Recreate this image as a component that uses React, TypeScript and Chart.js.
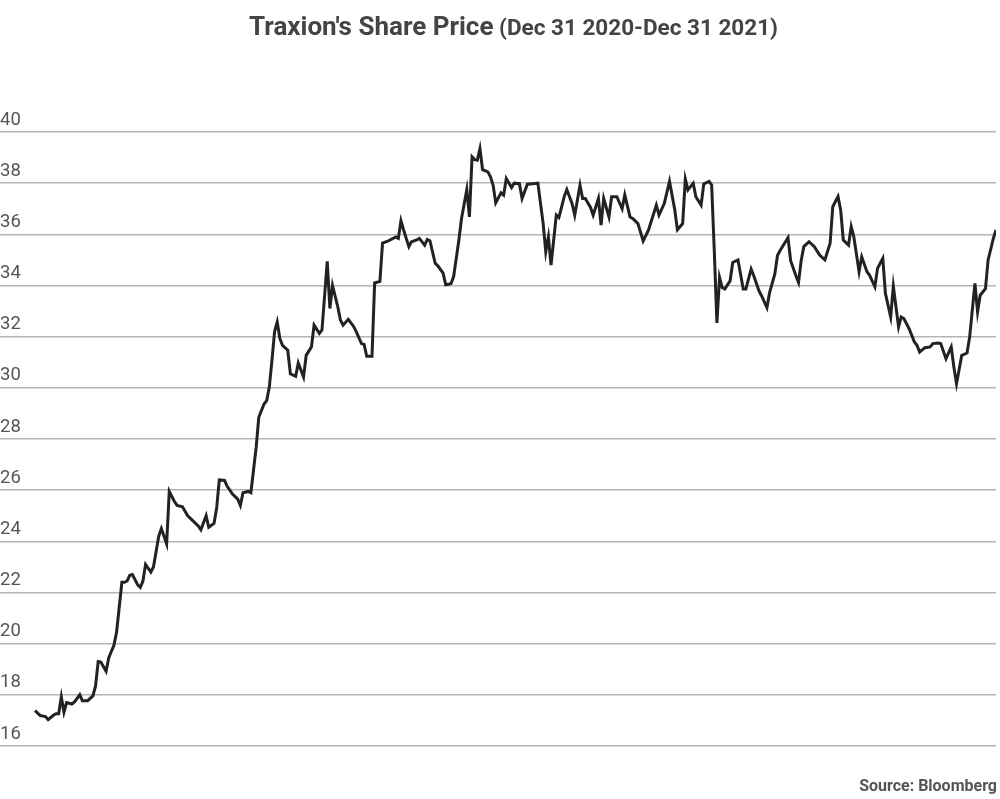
import React, { useEffect, useRef } from "react";
import { Chart, registerables } from "chart.js";

Chart.register(...registerables);

const titleMain = "Traxion's Share Price";
const titleSub = "(Dec 31 2020-Dec 31 2021)";
const sourceText = "Source: Bloomberg";

// days since Dec 31 2020
const days = [
  0, 2, 4, 5, 7, 8, 9, 10, 11, 12, 14, 15, 17, 18, 20, 22, 23, 24, 25, 27, 28, 30, 31, 33, 34, 35, 36, 37, 39, 40,
  41, 42, 44, 45, 47, 48, 50, 51, 53, 54, 56, 58, 60, 62, 63, 65, 66, 68, 69, 70, 72, 73, 75, 77, 78, 79, 81, 82,
  84, 85, 87, 88, 89, 90, 91, 92, 93, 94, 96, 97, 99, 100, 102, 103, 105, 106, 108, 109, 111, 112, 113, 115, 116,
  117, 119, 121, 122, 124, 125, 126, 128, 129, 131, 132, 134, 136, 137, 138, 139, 140, 142, 143, 145, 146, 148,
  149, 150, 152, 153, 155, 156, 158, 159, 161, 162, 164, 165, 166, 167, 168, 169, 170, 172, 173, 174, 175, 177,
  178, 179, 181, 182, 184, 185, 187, 189, 191, 193, 194, 195, 196, 198, 199, 201, 202, 204, 205, 207, 208, 209,
  211, 212, 214, 215, 216, 218, 219, 221, 223, 224, 226, 227, 229, 231, 233, 234, 236, 237, 239, 241, 243, 244,
  246, 247, 248, 250, 251, 253, 254, 256, 257, 258, 259, 260, 261, 262, 264, 265, 267, 269, 270, 272, 273, 275,
  276, 278, 279, 281, 282, 283, 286, 287, 289, 290, 291, 292, 294, 296, 298, 300, 302, 303, 305, 306, 307, 309,
  310, 311, 313, 314, 316, 317, 319, 320, 322, 323, 325, 326, 328, 329, 330, 332, 334, 335, 336, 338, 340, 341,
  343, 344, 346, 348, 349, 350, 352, 354, 355, 357, 358, 359, 361, 362, 364, 365,
];

const prices = [
  17.38, 17.19, 17.15, 17.03, 17.2, 17.26, 17.26, 17.92, 17.32, 17.7, 17.64, 17.72, 18.0, 17.77, 17.77, 17.96,
  18.35, 19.3, 19.28, 18.92, 19.44, 19.95, 20.46, 22.4, 22.4, 22.45, 22.67, 22.7, 22.3, 22.2,
  22.45, 23.1, 22.8, 23.0, 24.2, 24.5, 23.9, 25.95, 25.55, 25.4, 25.35, 25.0, 24.8, 24.6, 24.45, 25.0, 24.55, 24.7,
  25.3, 26.4, 26.38, 26.15, 25.85, 25.65, 25.4, 25.9, 25.95, 25.9,
  27.67, 28.85, 29.37, 29.5, 30.03, 31.07, 32.2, 32.58, 31.93, 31.66, 31.47, 30.55, 30.45, 30.97, 30.42, 31.27,
  31.6, 32.45, 32.13, 32.26, 34.94, 33.1, 34.0, 33.17, 32.65,
  32.45, 32.68, 32.4, 32.2, 31.73, 31.7, 31.23, 31.23, 34.1, 34.16, 35.66, 35.73, 35.84, 35.9, 35.84, 36.53, 36.17,
  35.52, 35.71, 35.78, 35.84, 35.58,
  35.8, 35.75, 34.87, 34.77, 34.48, 34.03, 34.07, 34.35, 35.78, 36.62, 37.75, 36.68, 39.03, 38.92, 38.9, 39.35,
  38.53, 38.44, 38.25, 37.92, 37.23, 37.62,
  37.53, 38.18, 37.83, 38.0, 37.98, 37.4, 37.96, 37.98, 38.0, 36.43, 35.32, 35.9, 34.8, 36.75, 36.66, 37.47, 37.75,
  37.2, 36.75, 37.92, 37.4, 37.4,
  37.05, 36.75, 37.4, 36.36, 37.4, 36.68, 37.47, 37.47, 37.0, 37.54, 36.68, 36.62, 36.42, 35.74, 36.16, 36.49,
  37.14, 36.75, 37.2, 38.07, 36.95, 36.18,
  36.42, 38.16, 37.74, 38.0, 37.47, 37.14, 37.97, 38.07, 37.93, 35.37, 32.54, 34.32, 33.92, 33.86, 34.18, 34.9,
  35.0, 33.86, 33.86, 34.64, 34.38, 33.79,
  33.59, 33.13, 33.72, 34.45, 35.17, 35.37, 35.87, 34.97, 34.38, 34.12, 34.97, 35.52, 35.71, 35.52, 35.19, 35.0,
  35.65, 37.08, 37.48, 36.95, 35.78, 35.58,
  36.3, 35.9, 34.54, 35.12, 34.54, 34.4, 33.95, 34.67, 35.06, 33.69, 32.77, 33.97, 32.38, 32.77, 32.71, 32.31,
  31.79, 31.66, 31.4, 31.57, 31.6, 31.73,
  31.75, 31.73, 31.14, 31.6, 30.81, 30.16, 31.27, 31.36, 31.99, 34.08, 32.97, 33.62, 33.88, 35.0, 35.84, 36.17,
];

const priceTicks = [16, 18, 20, 22, 24, 26, 28, 30, 32, 34, 36, 38, 40];

export default function App() {
  const canvasRef = useRef<HTMLCanvasElement | null>(null);

  useEffect(() => {
    if (!canvasRef.current) return;
    Chart.defaults.font.family = "Roboto";
    const points = days.map((d, i) => ({ x: d, y: prices[i] }));
    const chart = new Chart(canvasRef.current, {
      type: "line",
      data: {
        datasets: [
          {
            data: points,
            borderColor: "#222222",
            borderWidth: 3,
            pointRadius: 0,
            tension: 0,
            fill: false,
          },
        ],
      },
      options: {
        animation: false,
        responsive: false,
        devicePixelRatio: 1,
        layout: { padding: { top: 132, bottom: 53, left: 0, right: 4 } },
        plugins: {
          legend: { display: false },
          title: { display: false },
          tooltip: { enabled: false },
        },
        scales: {
          x: {
            type: "linear",
            display: false,
            min: -13.29,
            max: 365,
          },
          y: {
            type: "linear",
            min: 16,
            max: 40,
            afterBuildTicks: (scale: any) => {
              scale.ticks = priceTicks.map((v) => ({ value: v }));
            },
            border: { display: false },
            grid: {
              color: "#b5b5b5",
              lineWidth: 1.5,
              drawTicks: false,
            },
            ticks: {
              autoSkip: false,
              mirror: true,
              padding: 0,
              color: "#555555",
              font: { family: "Roboto", size: 18.5, lineHeight: "24px" as any },
              callback: (v: any) => [String(v), ""],
            },
          },
        },
      },
    });
    return () => chart.destroy();
  }, []);

  return (
    <div
      style={{
        position: "fixed",
        left: 0,
        top: 0,
        width: 1000,
        height: 799,
        background: "#ffffff",
        fontFamily: "Roboto, sans-serif",
      }}
    >
      <div
        style={{
          position: "absolute",
          top: 11,
          left: 0,
          width: 1000,
          boxSizing: "border-box",
          paddingLeft: 27,
          textAlign: "center",
          lineHeight: "30px",
          color: "#444444",
          fontWeight: 700,
          whiteSpace: "nowrap",
        }}
      >
        <span style={{ fontSize: 26 }}>{titleMain}</span>
        <span style={{ fontSize: 22.5 }}> {titleSub}</span>
      </div>
      <canvas ref={canvasRef} width={1000} height={799} style={{ display: "block" }} />
      <div
        style={{
          position: "absolute",
          right: 3,
          top: 778,
          fontSize: 16,
          lineHeight: "16px",
          fontWeight: 700,
          color: "#555555",
          whiteSpace: "nowrap",
        }}
      >
        {sourceText}
      </div>
    </div>
  );
}
